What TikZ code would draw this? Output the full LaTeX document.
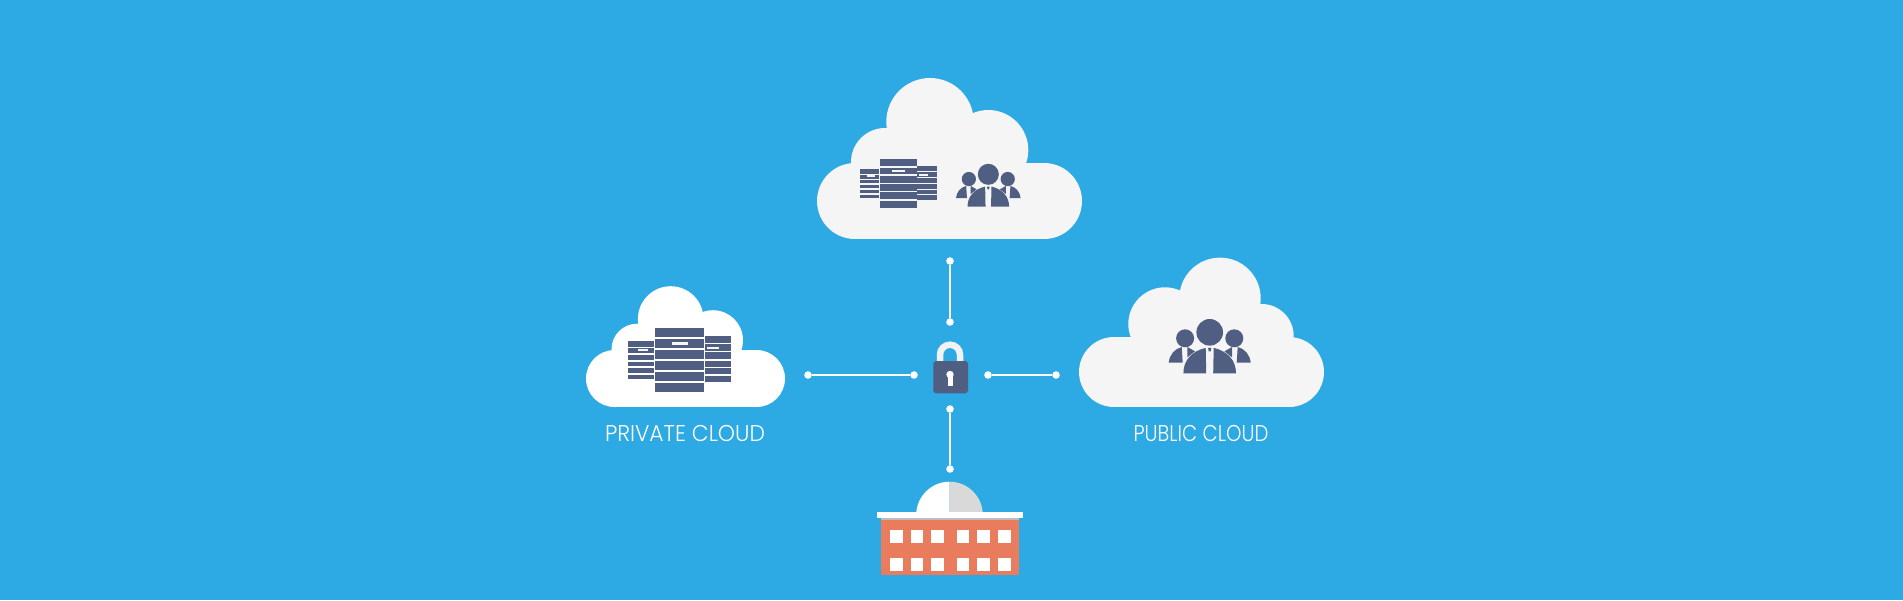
\documentclass[tikz,border=0pt]{standalone}
\usepackage{fontspec}
\setmainfont{Poppins Light}
\definecolor{skyback}{HTML}{2DA9E3}
\definecolor{cloudgray}{HTML}{F5F5F5}
\definecolor{iconblue}{HTML}{4F5E81}
\definecolor{brickred}{HTML}{E87C5C}
\definecolor{domegray}{HTML}{D9D9D9}
\definecolor{roofgray}{HTML}{BDBDBD}
\tikzset{
	wdot/.style={circle, fill=white, minimum size=4.3pt, inner sep=0, outer sep=0},
	wire/.style={draw=white, line width=0.8pt},
	cloudlabel/.style={text=white, font=\fontsize{13}{13}\selectfont, inner sep=0, transform shape},
	slab/.style={fill=iconblue},
	slot/.style={fill=cloudgray},
	window/.style={fill=white},
}
\begin{document}
\begin{tikzpicture}[x=0.02cm, y=-0.02cm]
	%%%%% START %%%%%
	\tikzset{
		racks/.pic={
			% centre tower
			\foreach \ya/\yb in {-24.2/-17.3, -15.8/-9.3, -7.8/-1, 0.5/7.4, 8.8/15.7, 17.2/24.2}
				\fill[slab] (-18.3, \ya) rectangle (18.3, \yb);
			\fill[slot] (-6, -13.5) rectangle (6.7, -11.2);
			% left tower
			\foreach \ya/\yb in {-14.5/-10, -8.8/-5, -3.8/-0.3, 1.2/4.7, 6/9.4, 11/14.2}
				\fill[slab] (-38.5, \ya) rectangle (-19.2, \yb);
			\fill[slot] (-31.2, -8.2) rectangle (-23.5, -6.5);
			% right tower
			\foreach \ya/\yb in {-17.8/-13, -11.8/-6.8, -5.8/-1, 0.5/5, 6.2/10.7, 11.8/16.2}
				\fill[slab] (19, \ya) rectangle (38.5, \yb);
			\fill[slot] (21, -9.5) rectangle (29.5, -8);
		},
		crowd/.pic={
			% side men
			\foreach \s in {-1, 1}{
				\fill[iconblue] (\s*24.6, 6) circle (9);
				\fill[iconblue] (\s*41, 30.3) .. controls (\s*40, 22) and (\s*35, 16.5) .. (\s*28, 14.7)
					-- (\s*27, 30.3) -- cycle;
				\fill[iconblue] (\s*22.3, 14.7) -- (\s*14.7, 19) -- (\s*22.3, 25) -- cycle;
			}
			% centre man
			\fill[iconblue] (0, 0) circle (13.3);
			\fill[iconblue] (-26.3, 41) .. controls (-26.3, 28) and (-18, 19) .. (-4, 15.5)
				-- (-3.5, 41) -- cycle;
			\fill[iconblue] (26.3, 41) .. controls (26.3, 28) and (18, 19) .. (4, 15.5)
				-- (3.5, 41) -- cycle;
			\fill[iconblue] (-1.7, 15.5) -- (1.7, 15.5) -- (1, 19) -- (-1, 19) -- cycle;
		},
	}
	
	\fill[skyback] (0, 0) rectangle (1903, 600);
	\useasboundingbox (0, 0) rectangle (1903, 600);
	
	% upper cloud
	\fill[cloudgray] (855, 201) circle (38);
	\fill[cloudgray] (1044, 201) circle (38);
	\fill[cloudgray] (885, 162) circle (34);
	\fill[cloudgray] (930, 121.7) circle (43.7);
	\fill[cloudgray] (988.3, 150) circle (40);
	\fill[cloudgray] (855, 163) rectangle (1044, 239);
	\fill[cloudgray] (890, 125) rectangle (985, 170);
	\pic at (898.3, 183.5) {racks};
	\pic[scale=0.79] at (988.3, 174.3) {crowd};
	
	% private cloud
	\fill[white] (614.5, 378.5) circle (28.5);
	\fill[white] (756.5, 378.5) circle (28.5);
	\fill[white] (637, 349.2) circle (25.5);
	\fill[white] (670.7, 319) circle (32.8);
	\fill[white] (713, 340.2) circle (30);
	\fill[white] (614.5, 350) rectangle (756.5, 407);
	\fill[white] (640, 320) rectangle (712, 355);
	\pic[scale=1.33] at (679.5, 360) {racks};
	\node[cloudlabel, xscale=0.955] (privatelabel) at (685, 433.5) {PRIVATE CLOUD};
	
	% public cloud
	\fill[cloudgray] (1114, 372) circle (35);
	\fill[cloudgray] (1289, 372) circle (35);
	\fill[cloudgray] (1165, 324) circle (36.7);
	\fill[cloudgray] (1220, 298.3) circle (40.7);
	\fill[cloudgray] (1261.7, 336) circle (32);
	\fill[cloudgray] (1114, 337) rectangle (1289, 407);
	\fill[cloudgray] (1170, 300) rectangle (1260, 340);
	\pic at (1209.7, 332.3) {crowd};
	\node[cloudlabel, xscale=0.86] (publiclabel) at (1201, 433.5) {PUBLIC CLOUD};
	
	% lock and its four wires
	\draw[color=white!92!iconblue, line width=3.7pt] (940, 361) -- (940, 354.7) arc (180:0:10 and -10) -- (960, 361);
	\fill[iconblue, rounded corners=1.7pt] (933.3, 361) rectangle (968, 393.3);
	\fill[white] (950, 374.5) circle (3.7);
	\fill[white] (947.5, 375) rectangle (953, 386);
	
	\node[wdot] (upperA) at (950, 261) {};
	\node[wdot] (upperB) at (950, 322) {};
	\node[wdot] (leftA) at (808, 375) {};
	\node[wdot] (leftB) at (914, 375) {};
	\node[wdot] (rightA) at (988, 375) {};
	\node[wdot] (rightB) at (1056, 375) {};
	\node[wdot] (lowerA) at (950, 409) {};
	\node[wdot] (lowerB) at (950, 469) {};
	\draw[wire] (upperA) -- (upperB);
	\draw[wire] (leftA) -- (leftB);
	\draw[wire] (rightA) -- (rightB);
	\draw[wire] (lowerA) -- (lowerB);
	
	% campus building
	\fill[white] (916.2, 515) arc (180:90:33.3 and -33.3) -- (949.5, 515) -- cycle;
	\fill[domegray] (949.5, 515) -- (949.5, 481.7) arc (90:0:33.3 and -33.3) -- cycle;
	\fill[white] (877, 511.7) rectangle (1023, 518);
	\fill[roofgray] (881.3, 518) rectangle (1019.3, 520);
	\fill[brickred] (881.3, 520) rectangle (1019.3, 575);
	\foreach \wx in {890, 910.7, 931, 956.7, 977.3, 998}{
		\fill[window] (\wx, 530.3) rectangle +(12.5, 13);
		\fill[window] (\wx, 557.7) rectangle +(12.5, 13);
	}
	
	%%%%% END %%%%%
\end{tikzpicture}
\end{document}
